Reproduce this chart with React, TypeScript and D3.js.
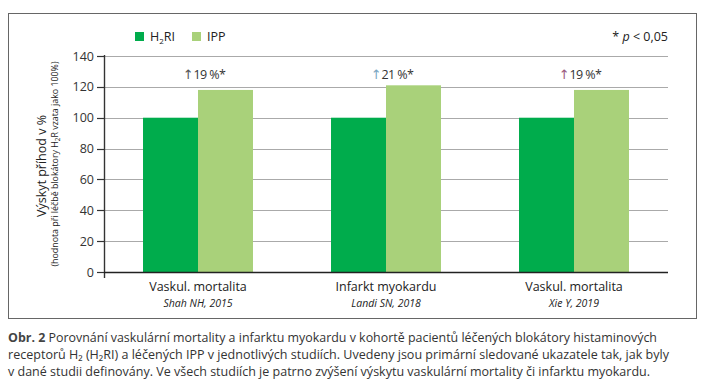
import { useEffect, useRef } from "react";
import * as d3 from "d3";

const categories = ["Vaskul. mortalita", "Infarkt myokardu", "Vaskul. mortalita"];
const studies = ["Shah NH, 2015", "Landi SN, 2018", "Xie Y, 2019"];
const h2riValues = [100, 100, 100];
const ippValues = [118, 121, 118];
const changeLabels = ["19 %*", "21 %*", "19 %*"];
const arrowColors = ["#555555", "#7aa6c2", "#9a5a7e"];
const yTicks = [0, 20, 40, 60, 80, 100, 120, 140];
const captionLines = [
  "Porovnání vaskulární mortality a infarktu myokardu v kohortě pacientů léčených blokátory histaminových",
  "receptorů H₂ (H₂RI) a léčených IPP v jednotlivých studiích. Uvedeny jsou primární sledované ukazatele tak, jak byly",
  "v dané studii definovány. Ve všech studiích je patrno zvýšení výskytu vaskulární mortality či infarktu myokardu.",
];

const GREEN = "#00ac4c";
const LIGHT = "#a9d17a";
const FONT = "'Open Sans', 'DejaVu Sans', sans-serif";

function App() {
  const ref = useRef<SVGSVGElement | null>(null);

  useEffect(() => {
    const svg = d3.select(ref.current);
    svg.selectAll("*").remove();

    const left = 104, right = 668, top = 56, bottom = 272;

    const x = d3
      .scaleBand<number>()
      .domain(d3.range(categories.length))
      .range([left, right])
      .paddingInner(0.415)
      .paddingOuter(0.2075);
    const y = d3.scaleLinear().domain([0, 140]).range([bottom, top]);
    const bw = x.bandwidth() / 2;

    // rámeček
    svg
      .append("rect")
      .attr("x", 8.5)
      .attr("y", 13.5)
      .attr("width", 688)
      .attr("height", 305)
      .attr("fill", "none")
      .attr("stroke", "#666")
      .attr("stroke-width", 1);

    // mřížka
    svg
      .append("g")
      .selectAll("line")
      .data(yTicks.filter((t) => t > 0))
      .enter()
      .append("line")
      .attr("x1", left)
      .attr("x2", right)
      .attr("y1", (d) => Math.round(y(d)) + 0.5)
      .attr("y2", (d) => Math.round(y(d)) + 0.5)
      .attr("stroke", "#aaaaaa")
      .attr("stroke-width", 1.2);

    // sloupce
    const groups = svg
      .append("g")
      .selectAll("g")
      .data(d3.range(categories.length))
      .enter()
      .append("g");

    groups
      .append("rect")
      .attr("x", (i) => x(i)!)
      .attr("y", (i) => y(h2riValues[i]))
      .attr("width", bw)
      .attr("height", (i) => y(0) - y(h2riValues[i]))
      .attr("fill", GREEN);

    groups
      .append("rect")
      .attr("x", (i) => x(i)! + bw)
      .attr("y", (i) => y(ippValues[i]))
      .attr("width", bw)
      .attr("height", (i) => y(0) - y(ippValues[i]))
      .attr("fill", LIGHT);

    // popisky změny
    const lbl = groups
      .append("text")
      .attr("x", (i) => x(i)! + x.bandwidth() / 2 + 6)
      .attr("y", 79)
      .attr("text-anchor", "middle")
      .attr("font-family", FONT)
      .attr("font-size", 12.5)
      .attr("fill", "#333");
    lbl
      .append("tspan")
      .attr("fill", (i) => arrowColors[i])
      .attr("font-family", "'DejaVu Sans', sans-serif")
      .attr("font-size", 13)
      .text("↑");
    lbl
      .append("tspan")
      .attr("letter-spacing", -0.6)
      .text((i) => changeLabels[i]);

    // osa y
    svg
      .append("line")
      .attr("x1", left + 0.5)
      .attr("x2", left + 0.5)
      .attr("y1", top - 1)
      .attr("y2", bottom + 6)
      .attr("stroke", "#333")
      .attr("stroke-width", 1.4);

    svg
      .append("g")
      .selectAll("line")
      .data(yTicks)
      .enter()
      .append("line")
      .attr("x1", left - 7)
      .attr("x2", left)
      .attr("y1", (d) => Math.round(y(d)) + 0.5)
      .attr("y2", (d) => Math.round(y(d)) + 0.5)
      .attr("stroke", "#333")
      .attr("stroke-width", 1.2);

    svg
      .append("g")
      .selectAll("text")
      .data(yTicks)
      .enter()
      .append("text")
      .attr("x", 94)
      .attr("y", (d) => y(d) + 4.5)
      .attr("text-anchor", "end")
      .attr("font-family", FONT)
      .attr("font-size", 12.5)
      .attr("fill", "#333")
      .text((d) => d);

    // osa x
    svg
      .append("line")
      .attr("x1", left)
      .attr("x2", right)
      .attr("y1", bottom + 0.5)
      .attr("y2", bottom + 0.5)
      .attr("stroke", "#222")
      .attr("stroke-width", 1.4);

    groups
      .append("text")
      .attr("x", (i) => x(i)! + x.bandwidth() / 2)
      .attr("y", 291)
      .attr("text-anchor", "middle")
      .attr("font-family", FONT)
      .attr("font-size", 12.5)
      .attr("fill", "#222")
      .text((i) => categories[i]);

    groups
      .append("text")
      .attr("x", (i) => x(i)! + x.bandwidth() / 2)
      .attr("y", 307)
      .attr("text-anchor", "middle")
      .attr("font-family", FONT)
      .attr("font-size", 10.5)
      .attr("font-style", "italic")
      .attr("fill", "#222")
      .text((i) => studies[i]);

    // název osy y
    const yt = svg
      .append("text")
      .attr("transform", "translate(46,166) rotate(-90)")
      .attr("text-anchor", "middle")
      .attr("font-family", FONT)
      .attr("fill", "#222");
    yt.append("tspan").attr("font-size", 12.5).text("Výskyt příhod v %");

    const yt2 = svg
      .append("text")
      .attr("transform", "translate(58,164) rotate(-90)")
      .attr("text-anchor", "middle")
      .attr("font-family", FONT)
      .attr("font-size", 9.5)
      .attr("fill", "#222")
      .attr("textLength", 205)
      .attr("lengthAdjust", "spacingAndGlyphs");
    yt2.append("tspan").text("(hodnota při léčbě blokátory H");
    yt2.append("tspan").attr("font-size", 7).attr("dy", 2).text("2");
    yt2.append("tspan").attr("dy", -2).text("R vzata jako 100%)");

    // legenda
    const legend = [
      { name: "H", sub: "2", rest: "RI", color: GREEN, x: 135 },
      { name: "IPP", sub: "", rest: "", color: LIGHT, x: 192 },
    ];
    const lg = svg.append("g").selectAll("g").data(legend).enter().append("g");
    lg.append("rect")
      .attr("x", (d) => d.x)
      .attr("y", 32)
      .attr("width", 9)
      .attr("height", 9)
      .attr("fill", (d) => d.color);
    const lt = lg
      .append("text")
      .attr("x", (d) => d.x + 15)
      .attr("y", 41)
      .attr("font-family", FONT)
      .attr("font-size", 12.5)
      .attr("fill", "#222");
    lt.append("tspan").text((d) => d.name);
    lt.append("tspan").attr("font-size", 8).attr("dy", 3).text((d) => d.sub);
    lt.append("tspan").attr("dy", -3).text((d) => d.rest);

    // p-hodnota
    const pt = svg
      .append("text")
      .attr("x", 668)
      .attr("y", 41)
      .attr("text-anchor", "end")
      .attr("font-family", FONT)
      .attr("font-size", 12.5)
      .attr("fill", "#222");
    pt.append("tspan").text("* ");
    pt.append("tspan").attr("font-style", "italic").text("p");
    pt.append("tspan").text(" < 0,05");

    // popisek obrázku
    const capEnds = [657, 669, 650];
    captionLines.forEach((line, i) => {
      const t = svg
        .append("text")
        .attr("x", 8)
        .attr("y", 342 + i * 17)
        .attr("font-family", FONT)
        .attr("font-size", 12.5)
        .attr("fill", "#333")
        .attr("textLength", capEnds[i] - 8)
        .attr("lengthAdjust", "spacingAndGlyphs");
      if (i === 0) {
        t.append("tspan").attr("font-weight", "bold").attr("fill", "#444").text("Obr. 2 ");
        t.append("tspan").text(" " + line);
      } else {
        t.text(line);
      }
    });
  }, []);

  return (
    <svg
      ref={ref}
      width={707}
      height={384}
      style={{ position: "absolute", left: 0, top: 0, background: "#fff" }}
    />
  );
}

export default App;
